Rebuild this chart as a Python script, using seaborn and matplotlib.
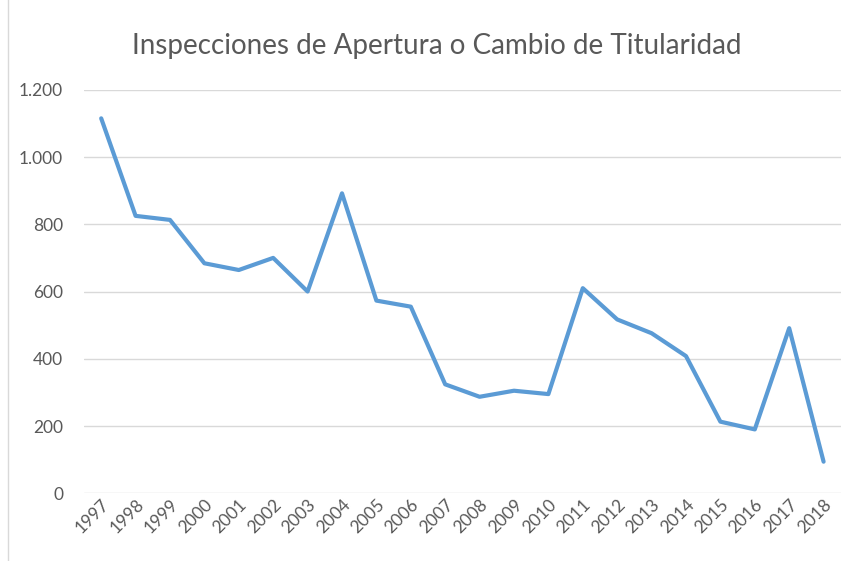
import matplotlib
matplotlib.use("Agg")
import matplotlib.pyplot as plt
import seaborn as sns
import pandas as pd
from matplotlib.patches import Rectangle

years = [str(y) for y in range(1997, 2019)]
values = [1115, 825, 813, 684, 664, 700, 600, 892, 573, 555, 324,
          287, 305, 295, 610, 517, 476, 408, 213, 190, 491, 94]
title = "Inspecciones de Apertura o Cambio de Titularidad"
yticks = [0, 200, 400, 600, 800, 1000, 1200]
ytick_labels = ["0", "200", "400", "600", "800", "1.000", "1.200"]

sns.set_theme(style="white")
plt.rcParams['font.family'] = ['Lato', 'DejaVu Sans']

df = pd.DataFrame({"year": years, "value": values})

fig = plt.figure(figsize=(8.51, 5.61), dpi=100)
ax = fig.add_axes([0.0987, 0.1207, 0.8893, 0.7193])

sns.lineplot(data=df, x="year", y="value", ax=ax, color="#5B9BD5",
             linewidth=3.0, sort=False)

ax.set_xlim(-0.5, len(years) - 0.5)
ax.set_ylim(0, 1200)
ax.set_yticks(yticks)
ax.set_yticklabels(ytick_labels)
ax.yaxis.grid(True, color="#D9D9D9", linewidth=1)
ax.set_axisbelow(True)
for s in ax.spines.values():
    s.set_visible(False)
ax.set_xlabel("")
ax.set_ylabel("")
ax.tick_params(axis="both", length=0, colors="#595959", labelsize=12.5)
ax.tick_params(axis="y", pad=15)
ax.tick_params(axis="x", pad=2)
for lbl in ax.get_xticklabels():
    lbl.set_rotation(45)
    lbl.set_ha("right")
    lbl.set_rotation_mode("anchor")

fig.text(0.513, 0.918, title, ha="center", va="center", fontsize=20,
         color="#595959")

fig.patches.append(Rectangle((0.009, -0.01), 1.0, 1.02, transform=fig.transFigure,
                             fill=False, edgecolor="#D9D9D9", linewidth=1))

fig.savefig("out.png", dpi=100)
